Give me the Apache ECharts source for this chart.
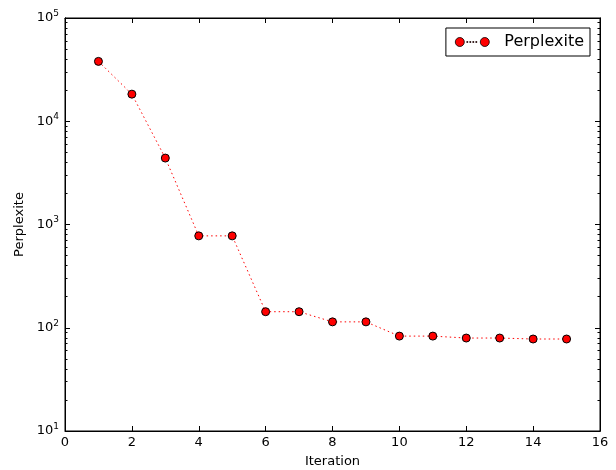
<!DOCTYPE html>
<html><head><meta charset="utf-8">
<script src="https://cdn.jsdelivr.net/npm/echarts@6/dist/echarts.min.js"></script>
<style>html,body{margin:0;padding:0;background:#fff}#c{width:616px;height:470px}</style>
</head><body><div id="c"></div>
<script>
const iterations = [1,2,3,4,5,6,7,8,9,10,11,12,13,14,15];
const perplexite = [38000,18300,4400,776,776,143,143,114,114,83,83,79.5,79.5,77.8,77.8];
const xTicks = [0,2,4,6,8,10,12,14,16];
const yMajor = [10,100,1000,10000,100000];
const yMinor = [];
for (let d = 10; d < 100000; d *= 10) for (let k = 2; k <= 9; k++) yMinor.push(d * k);

const font = 'DejaVu Sans';
const chart = echarts.init(document.getElementById('c'), null, {renderer: 'canvas'});
const supLabel = v => '{b|10}{s|' + Math.round(Math.log10(v)) + '}';
const richSup = {b: {fontSize: 13, fontFamily: font, color: '#000'}, s: {fontSize: 9, fontFamily: font, color: '#000', padding: [0,0,9,0]}};
const baseY = {type: 'log', logBase: 10, min: 10, max: 100000, splitLine: {show: false}, axisLine: {show: true, lineStyle: {color: '#000', width: 1}}};
const legendIcon = 'path://M0,4.5a4.5,4.5 0 1,0 9,0a4.5,4.5 0 1,0 -9,0z M25,4.5a4.5,4.5 0 1,0 9,0a4.5,4.5 0 1,0 -9,0z M11.5,4h1v1h-1z M14.5,4h1v1h-1z M17.5,4h1v1h-1z M20.5,4h1v1h-1z';
chart.setOption({
  animation: false,
  grid: {left: 65, right: 16, top: 18, bottom: 39, show: true, borderColor: '#000', borderWidth: 1, outerBoundsMode: 'none', containLabel: false},
  legend: {
    right: 26, top: 28, orient: 'vertical',
    backgroundColor: '#fff', borderColor: '#000', borderWidth: 1, borderRadius: 0,
    padding: [6, 6, 6, 9], itemWidth: 34, itemHeight: 9, itemGap: 14,
    icon: legendIcon,
    itemStyle: {color: '#ff0000', borderColor: '#000', borderWidth: 0.8},
    textStyle: {fontFamily: font, fontSize: 16, color: '#000', padding: [0,0,0,10]}
  },
  xAxis: [
    {type: 'value', min: 0, max: 16, interval: 2, position: 'bottom',
     name: 'Iteration', nameLocation: 'middle', nameGap: 24,
     nameTextStyle: {fontFamily: font, fontSize: 13, color: '#000'},
     axisLine: {lineStyle: {color: '#000'}},
     axisTick: {inside: true, length: 5, lineStyle: {color: '#000'}, customValues: xTicks},
     axisLabel: {fontFamily: font, fontSize: 13, color: '#000', margin: 5, customValues: xTicks},
     splitLine: {show: false}},
    {type: 'value', min: 0, max: 16, interval: 2, position: 'top',
     axisLine: {lineStyle: {color: '#000'}},
     axisTick: {inside: true, length: 5, lineStyle: {color: '#000'}},
     axisLabel: {show: false}, splitLine: {show: false}}
  ],
  yAxis: [
    Object.assign({}, baseY, {position: 'left',
      name: 'Perplexite', nameLocation: 'middle', nameGap: 38, nameRotate: 90,
      nameTextStyle: {fontFamily: font, fontSize: 13, color: '#000'},
      axisTick: {inside: true, length: 5, lineStyle: {color: '#000'}, customValues: yMajor},
      axisLabel: {customValues: yMajor, formatter: supLabel, rich: richSup, margin: 6}}),
    Object.assign({}, baseY, {position: 'left',
      axisTick: {inside: true, length: 2.5, lineStyle: {color: '#000'}, customValues: yMinor},
      axisLabel: {show: false}}),
    Object.assign({}, baseY, {position: 'right',
      axisTick: {inside: true, length: 5, lineStyle: {color: '#000'}, customValues: yMajor},
      axisLabel: {show: false}}),
    Object.assign({}, baseY, {position: 'right',
      axisTick: {inside: true, length: 2.5, lineStyle: {color: '#000'}, customValues: yMinor},
      axisLabel: {show: false}})
  ],
  series: [{
    name: 'Perplexite', type: 'line',
    data: iterations.map((x, i) => [x, perplexite[i]]),
    symbol: 'circle', symbolSize: 8,
    itemStyle: {color: '#ff0000', borderColor: '#000', borderWidth: 1},
    lineStyle: {color: '#ff0000', width: 1, type: [1.5, 3]}
  }]
});
</script></body></html>
